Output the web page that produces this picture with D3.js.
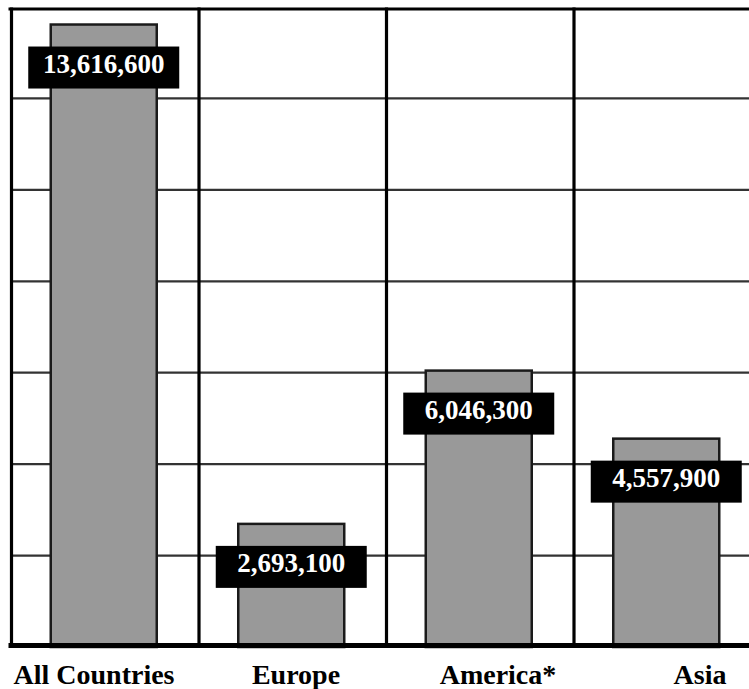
<!DOCTYPE html>
<html><head><meta charset="utf-8">
<script src="https://cdn.jsdelivr.net/npm/d3@7"></script>
<style>html,body{margin:0;padding:0;background:#fff;}</style>
</head><body>
<svg id="c" width="749" height="689"></svg>
<script>
const categories = ["All Countries", "Europe", "America*", "Asia"];
const values = [13616600, 2693100, 6046300, 4557900];
const valueLabels = ["13,616,600", "2,693,100", "6,046,300", "4,557,900"];
const gridTicks = [2000000, 4000000, 6000000, 8000000, 10000000, 12000000];

const svg = d3.select("#c");
const font = "'Liberation Serif', 'Times New Roman', serif";

const x = d3.scaleBand().domain(categories).range([10, 760]).padding(0);
const xl = d3.scaleBand().domain(categories).range([-7, 801]).padding(0);
const y = d3.scaleLinear().domain([0, 14000000]).range([647, 7]);
const barW = 106;

// horizontal grid lines
svg.append("g").selectAll("line").data(gridTicks).join("line")
  .attr("x1", x.range()[0]).attr("x2", 749)
  .attr("y1", d => y(d)).attr("y2", d => y(d))
  .attr("stroke", "#333").attr("stroke-width", 2.2);

// top line
svg.append("line").attr("x1", x.range()[0] - 1.5).attr("x2", 749)
  .attr("y1", y(14000000) + 2).attr("y2", y(14000000) + 2)
  .attr("stroke", "#000").attr("stroke-width", 3.2);

// vertical lines
svg.append("g").selectAll("line").data(categories).join("line")
  .attr("x1", d => x(d) + 1.5).attr("x2", d => x(d) + 1.5)
  .attr("y1", y(14000000) + 0.5).attr("y2", y(0))
  .attr("stroke", "#000").attr("stroke-width", 3.2);

// bars
svg.append("g").selectAll("rect").data(categories).join("rect")
  .attr("x", d => x(d) + x.bandwidth() / 2 - barW / 2)
  .attr("width", barW)
  .attr("y", (d, i) => y(values[i]))
  .attr("height", (d, i) => y(0) - y(values[i]))
  .attr("fill", "#999").attr("stroke", "#1a1a1a").attr("stroke-width", 2.5);

// bottom axis line
svg.append("line").attr("x1", x.range()[0] - 1.5).attr("x2", 749)
  .attr("y1", y(0) - 1.5).attr("y2", y(0) - 1.5)
  .attr("stroke", "#000").attr("stroke-width", 5);

// value labels
const boxW = 151, boxH = 42, drop = 22;
const lg = svg.append("g").selectAll("g").data(categories).join("g")
  .attr("transform", (d, i) => `translate(${x(d) + x.bandwidth() / 2},${y(values[i]) + drop})`);
lg.append("rect").attr("x", -boxW / 2).attr("y", 0).attr("width", boxW).attr("height", boxH).attr("fill", "#000");
lg.append("text").attr("x", 0).attr("y", 26).attr("text-anchor", "middle")
  .attr("fill", "#fff").attr("font-family", font).attr("font-weight", "bold").attr("font-size", 27)
  .text((d, i) => valueLabels[i]);

// category labels
svg.append("g").selectAll("text").data(categories).join("text")
  .attr("x", d => xl(d) + xl.bandwidth() / 2).attr("y", 684)
  .attr("text-anchor", "middle").attr("fill", "#000")
  .attr("font-family", font).attr("font-weight", "bold").attr("font-size", 28)
  .text(d => d);
</script>
</body></html>
